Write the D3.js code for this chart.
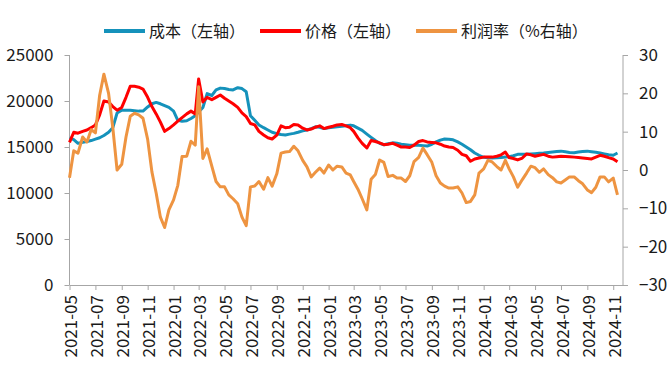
<!DOCTYPE html>
<html>
<head>
<meta charset="utf-8">
<script src="https://cdn.jsdelivr.net/npm/d3@7"></script>
<style>
  body { margin: 0; background: #fff; }
  svg text { font-family: "Noto Sans CJK SC", "Noto Sans", sans-serif; fill: #1a1a1a; }
</style>
</head>
<body>
<svg id="chart" width="670" height="367"></svg>
<script>
// dates (1st, 11th, 21st of each month)
var dates = [
  "2021-05-01","2021-05-11","2021-05-21","2021-06-01","2021-06-11","2021-06-21",
  "2021-07-01","2021-07-11","2021-07-21","2021-08-01","2021-08-11","2021-08-21",
  "2021-09-01","2021-09-11","2021-09-21","2021-10-01","2021-10-11","2021-10-21",
  "2021-11-01","2021-11-11","2021-11-21","2021-12-01","2021-12-11","2021-12-21",
  "2022-01-01","2022-01-11","2022-01-21","2022-02-01","2022-02-11","2022-02-21",
  "2022-03-01","2022-03-11","2022-03-21","2022-04-01","2022-04-11","2022-04-21",
  "2022-05-01","2022-05-11","2022-05-21","2022-06-01","2022-06-11","2022-06-21",
  "2022-07-01","2022-07-11","2022-07-21","2022-08-01","2022-08-11","2022-08-21",
  "2022-09-01","2022-09-11","2022-09-21","2022-10-01","2022-10-11","2022-10-21",
  "2022-11-01","2022-11-11","2022-11-21","2022-12-01","2022-12-11","2022-12-21",
  "2023-01-01","2023-01-11","2023-01-21","2023-02-01","2023-02-11","2023-02-21",
  "2023-03-01","2023-03-11","2023-03-21","2023-04-01","2023-04-11","2023-04-21",
  "2023-05-01","2023-05-11","2023-05-21","2023-06-01","2023-06-11","2023-06-21",
  "2023-07-01","2023-07-11","2023-07-21","2023-08-01","2023-08-11","2023-08-21",
  "2023-09-01","2023-09-11","2023-09-21","2023-10-01","2023-10-11","2023-10-21",
  "2023-11-01","2023-11-11","2023-11-21","2023-12-01","2023-12-11","2023-12-21",
  "2024-01-01","2024-01-11","2024-01-21","2024-02-01","2024-02-11","2024-02-21",
  "2024-03-01","2024-03-11","2024-03-21","2024-04-01","2024-04-11","2024-04-21",
  "2024-05-01","2024-05-11","2024-05-21","2024-06-01","2024-06-11","2024-06-21",
  "2024-07-01","2024-07-11","2024-07-21","2024-08-01","2024-08-11","2024-08-21",
  "2024-09-01","2024-09-11","2024-09-21","2024-10-01","2024-10-11","2024-10-21",
  "2024-11-01","2024-11-11"
];

// 成本 (left axis)
var costValues = [
  16000,15800,15400, 15500,15600,15700, 15850,16000,16250, 16600,17100,18700,
  19000,19000,19000, 18950,18900,18900, 19350,19700,19850, 19700,19500,19300,
  18900,17900,17800, 17850,18100,18400, 18800,19300,20800, 20600,21200,21400,
  21350,21250,21200, 21450,21350,21000, 18400,17900,17400, 17100,16850,16600,
  16450,16350,16300, 16400,16480,16600, 16750,16850,17000, 17200,17150,17000,
  17100,17150,17200, 17250,17300,17380, 17300,17050,16800, 16400,16050,15700,
  15400,15250,15350, 15450,15400,15300, 15250,15200,15200, 15200,15150,15100,
  15300,15550,15750, 15870,15850,15780, 15550,15300,15000, 14700,14350,14100,
  13880,13830,13800, 13830,13870,13900, 13950,14050,14200, 14200,14200,14250,
  14280,14320,14350, 14400,14450,14500, 14550,14480,14400, 14380,14450,14500,
  14550,14480,14420, 14350,14250,14150, 14100,14350
];

// 价格 (left axis)
var priceValues = [
  15500,16600,16500, 16700,16850,17100, 17400,18500,20000, 19900,19400,19000,
  19300,20400,21600, 21600,21500,21300, 20400,19400,18600, 17700,16700,17000,
  17400,17800,18200, 18600,18900,18600, 22400,19900,20400, 20150,20400,20650,
  20300,20000,19700, 19300,18700,18300, 17550,17400,16700, 16300,16000,15870,
  16300,17300,17100, 17150,17450,17400, 17050,16850,16950, 17150,17300,17000,
  17150,17250,17400, 17450,17300,17100, 16700,16000,15400, 14900,15700,15600,
  15450,15250,15300, 15400,15200,15000, 15000,14950,15200, 15600,15700,15550,
  15500,15450,15300, 15100,15000,14950, 14650,14200,14050, 13450,13700,13800,
  13900,13900,13900, 14000,14150,14450, 13850,13750,13600, 13800,14250,14150,
  14000,14100,14200, 14000,13900,13950, 14000,13980,13950, 13900,13850,13800,
  13750,13700,13900, 14100,14000,13850, 13700,13400
];

// 利润率 % (right axis)
var profitValues = [
  -2,5.0,4.4, 8.6,7.3,10.5, 9.7,19.5,25, 20,11,0,
  1.5,8.6,14, 14.8,14.4,13.5, 8,-0.5,-6, -12.3,-15,-10.4,
  -7.8,-4,3.5, 3.6,7.5,6.5, 21.7,3,5.5, 1,-3,-4.4,
  -4.4,-6.5,-7.5, -8.8,-12.3,-14.5, -4.4,-4.2,-3, -5,-2,-4.2,
  -1,4.4,4.7, 4.8,6.2,5, 2.5,0.8,-1.8, -0.6,0.5,-0.8,
  1.3,0,1, 0.8,-0.8,-1.3, -3,-5,-7.5, -10.4,-2.4,-1.2,
  2.6,2,-1.7, -1.4,-2.1,-2.1, -3,-1.5,2.2, 3.3,5.7,4,
  2,-1.5,-3.4, -4.2,-4.7,-4.7, -4.4,-6,-8.5, -8.2,-6.5,-0.8,
  0.3,2.5,2.1, 0.9,0,2.5, 0.3,-1.8,-4.5, -2.5,-0.8,1,
  0.6,-0.6,0.3, -1.2,-2,-3.1, -3.4,-2.6,-1.8, -1.8,-2.8,-3.6,
  -5.2,-5.9,-4.5, -1.8,-1.8,-3.1, -2.1,-6.5
];

var leftTicks = [0, 5000, 10000, 15000, 20000, 25000];
var rightTicks = [-30, -20, -10, 0, 10, 20, 30];
var monthTicks = [
  "2021-05","2021-07","2021-09","2021-11","2022-01","2022-03","2022-05","2022-07",
  "2022-09","2022-11","2023-01","2023-03","2023-05","2023-07","2023-09","2023-11",
  "2024-01","2024-03","2024-05","2024-07","2024-09","2024-11"
];
var seriesNames = ["成本（左轴）", "价格（左轴）", "利润率（%右轴）"];
var seriesColors = ["#1592bb", "#ff0000", "#ee9441"];

//
var svg = d3.select("#chart");
var plotLeft = 69.5, plotRight = 623, plotTop = 55, plotBottom = 285;
var parseDay = d3.timeParse("%Y-%m-%d");
var parseMonth = d3.timeParse("%Y-%m");
var axisColor = "#a6a6a6";

var x = d3.scaleTime()
  .domain([parseDay("2021-05-01"), parseDay("2024-11-24")])
  .range([plotLeft, plotRight]);
var yLeft = d3.scaleLinear().domain([0, 25000]).range([plotBottom, plotTop]);
var yRight = d3.scaleLinear().domain([-30, 30]).range([plotBottom, plotTop]);

// axes
var gLeft = svg.append("g").attr("transform", "translate(" + plotLeft + ",0)")
  .call(d3.axisLeft(yLeft).tickValues(leftTicks).tickSize(5).tickPadding(11).tickFormat(d3.format("d")));
var gRight = svg.append("g").attr("transform", "translate(" + plotRight + ",0)")
  .call(d3.axisRight(yRight).tickValues(rightTicks).tickSize(5).tickPadding(11).tickFormat(d3.format("d")));
var gBottom = svg.append("g").attr("transform", "translate(0," + plotBottom + ")")
  .call(d3.axisBottom(x).tickValues(monthTicks.map(parseMonth)).tickSize(5).tickSizeOuter(0)
    .tickFormat(d3.timeFormat("%Y-%m")));

// rotated month labels
gBottom.selectAll(".tick text")
  .attr("transform", "rotate(-90)")
  .attr("text-anchor", "end")
  .attr("x", -10)
  .attr("y", 0)
  .attr("dy", "0.42em");

[gLeft, gRight, gBottom].forEach(function(g) {
  g.selectAll("path.domain").attr("stroke", axisColor);
  g.selectAll(".tick line").attr("stroke", axisColor);
  g.selectAll(".tick text").style("font-size", "17px").style("fill", "#1a1a1a");
});
gLeft.select("path.domain").attr("d", "M0," + plotBottom + "V" + plotTop);
gRight.select("path.domain").attr("d", "M0," + plotBottom + "V" + plotTop);

// series lines
var points = dates.map(parseDay);
var series = [
  {values: costValues, scale: yLeft},
  {values: priceValues, scale: yLeft},
  {values: profitValues, scale: yRight}
];
series.forEach(function(s, i) {
  var line = d3.line()
    .x(function(d, j) { return x(points[j]); })
    .y(function(d) { return s.scale(d); });
  svg.append("path")
    .datum(s.values)
    .attr("fill", "none")
    .attr("stroke", seriesColors[i])
    .attr("stroke-width", 3)
    .attr("stroke-linejoin", "round")
    .attr("d", line);
});

// legend
var lx = 104, ly = 31;
seriesNames.forEach(function(name, i) {
  svg.append("line")
    .attr("x1", lx).attr("x2", lx + 41)
    .attr("y1", ly).attr("y2", ly)
    .attr("stroke", seriesColors[i])
    .attr("stroke-width", 4);
  var t = svg.append("text")
    .attr("x", lx + 45).attr("y", ly)
    .attr("dy", "0.35em")
    .style("font-size", "16px")
    .text(name);
  lx += 45 + t.node().getComputedTextLength() + 15;
});
</script>
</body>
</html>
